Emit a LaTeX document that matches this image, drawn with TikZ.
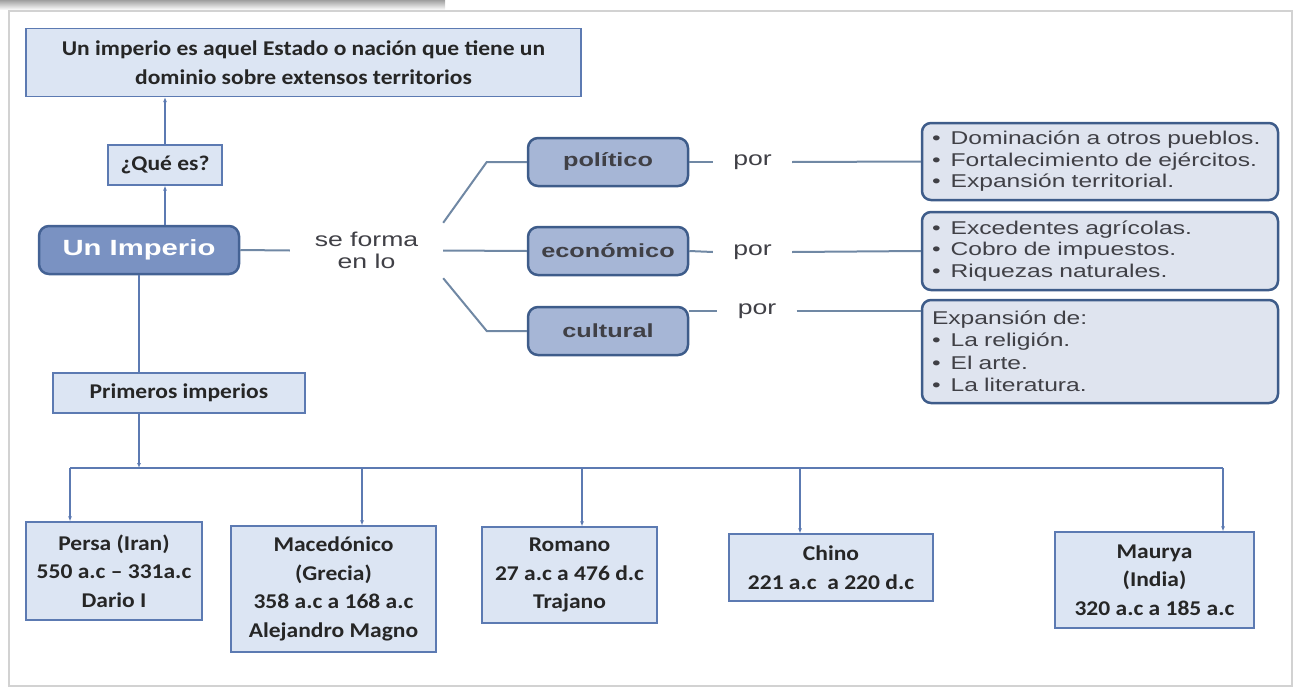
\documentclass[tikz,border=0pt]{standalone}
\usepackage{fontspec}
\newfontfamily\calfont[FakeStretch=1.12]{Carlito}
\newfontfamily\arfont[FakeStretch=1.33]{Liberation Sans}
\usetikzlibrary{
    arrows.meta
}
\definecolor{paleblue}{RGB}{220,229,243}
\definecolor{edgeblue}{RGB}{92,122,178}
\definecolor{coreblue}{RGB}{122,146,194}
\definecolor{coreedge}{RGB}{68,98,148}
\definecolor{fieldblue}{RGB}{166,182,214}
\definecolor{darkedge}{RGB}{62,92,138}
\definecolor{listgray}{RGB}{223,228,239}
\definecolor{linegray}{RGB}{112,136,164}
\definecolor{textgray}{RGB}{64,64,70}

\begin{document}
\begin{tikzpicture}
        [
            x=1pt, y=-1pt,
            light/.style = {draw=edgeblue, line width=1.2pt, fill=paleblue, rectangle, inner sep=0pt, align=center, text=black!85, font=\calfont\bfseries\fontsize{21}{28.5}\selectfont},
            core/.style = {draw=coreedge, line width=2.5pt, fill=coreblue, rounded corners=10pt, inner sep=0pt, minimum width=200pt, minimum height=48pt, text=white, font=\arfont\bfseries\fontsize{22}{24}\selectfont},
            field/.style = {draw=darkedge, line width=2.5pt, fill=fieldblue, rounded corners=10pt, inner sep=0pt, minimum width=160pt, minimum height=48pt, text=textgray, font=\arfont\bfseries\fontsize{19}{22}\selectfont},
            detail/.style = {draw=darkedge, line width=2.5pt, fill=listgray, rounded corners=9pt, inner xsep=10pt, inner ysep=0pt, text width=336pt, align=left, text=textgray, font=\arfont\fontsize{18.5}{21.5}\selectfont},
            word/.style = {inner sep=0pt, align=center, text=textgray, font=\arfont\fontsize{20}{22}\selectfont},
            link/.style = {draw=linegray, line width=2pt},
            wire/.style = {draw=edgeblue, line width=1.5pt},
            arr/.style = {wire, -{Latex[length=5pt,width=4pt]}}
        ]
        \useasboundingbox (0,0) rectangle (1296,688);
        % screen frame
        \shade[top color=gray!75, bottom color=white] (0,0) rectangle (445,10);
        \draw[gray!35, line width=1.5pt] (9,11) rectangle (1292,686);

        % left column
        \node[light, minimum width=555pt, minimum height=68pt] (def) at (303.5,62.5) {Un imperio es aquel Estado o nación que tiene un\\dominio sobre extensos territorios};
        \node[light, minimum width=114pt, minimum height=40pt] (que) at (165,165) {¿Qué es?};
        \node[core] (imperio) at (139,250) {Un Imperio};
        \node[light, minimum width=252pt, minimum height=40pt] (primeros) at (179,393) {Primeros imperios};

        % forms
        \node[word, minimum width=153pt, minimum height=55pt] (forma) at (366.5,250.5) {se forma\\en lo};
        \node[field] (politico) at (608,162) {político};
        \node[field] (economico) at (608,251) {económico};
        \node[field] (cultural) at (608,331) {cultural};
        \node[word, minimum width=79pt] (por1) at (752.5,162) {por};
        \node[word, minimum width=79pt] (por2) at (752.5,252) {por};
        \node[word, minimum width=79pt] (por3) at (757,311) {por};
        \node[detail, minimum height=77pt] (polby) at (1100,161.5) {\textbullet\hspace{10pt}Dominación a otros pueblos.\\\textbullet\hspace{10pt}Fortalecimiento de ejércitos.\\\textbullet\hspace{10pt}Expansión territorial.};
        \node[detail, minimum height=78pt] (ecoby) at (1100,251) {\textbullet\hspace{10pt}Excedentes agrícolas.\\\textbullet\hspace{10pt}Cobro de impuestos.\\\textbullet\hspace{10pt}Riquezas naturales.};
        \node[detail, minimum height=103pt, font=\arfont\fontsize{18.5}{22.5}\selectfont] (culby) at (1100,351.5) {Expansión de:\\\textbullet\hspace{10pt}La religión.\\\textbullet\hspace{10pt}El arte.\\\textbullet\hspace{10pt}La literatura.};

        % first empires
        \node[light, minimum width=176pt, minimum height=98pt] (persa) at (114,571) {Persa (Iran)\\550 a.c – 331a.c\\Dario I};
        \node[light, minimum width=205pt, minimum height=126pt] (macedonico) at (333.5,589) {Macedónico\\(Grecia)\\358 a.c a 168 a.c\\Alejandro Magno};
        \node[light, minimum width=175pt, minimum height=96pt] (romano) at (569.5,575) {Romano\\27 a.c a 476 d.c\\Trajano};
        \node[light, minimum width=204pt, minimum height=67pt] (chino) at (831,567.5) {Chino\\221 a.c \ a 220 d.c};
        \node[light, minimum width=199pt, minimum height=96pt] (maurya) at (1154.5,580) {Maurya\\(India)\\320 a.c a 185 a.c};

        % connectors
        \draw[arr] (que.north) -- (que.north |- def.south);
        \draw[arr] (que.south |- imperio.north) -- (que.south);
        \draw[wire] (imperio.south) -- (imperio.south |- primeros.north);
        \coordinate (busL) at (70,468);
        \coordinate (busR) at (1223,468);
        \draw[arr] (primeros.south -| imperio.south) -- (imperio.south |- busL);
        \draw[wire] (busL) -- (busR);
        \foreach \x/\n in {70/persa, 362/macedonico, 582/romano, 800/chino, 1223/maurya}
            \draw[arr] (\x,0 |- busL) -- (\x,0 |- \n.north);

        \draw[link] (imperio.east) -- (forma.west);
        \draw[link] (forma.north east) -- ([xshift=-40pt]politico.west) -- (politico.west);
        \draw[link] (forma.east) -- (economico.west);
        \draw[link] (forma.south east) -- ([xshift=-40pt]cultural.west) -- (cultural.west);
        \draw[link] (politico.east) -- (por1.west);
        \draw[link] (por1.east) -- (polby.west);
        \draw[link] (economico.east) -- (por2.west);
        \draw[link] (por2.east) -- (ecoby.west);
        \draw[link] (por3 -| cultural.east) -- (por3.west);
        \draw[link] (por3.east) -- (por3 -| culby.west);
    \end{tikzpicture}
\end{document}
